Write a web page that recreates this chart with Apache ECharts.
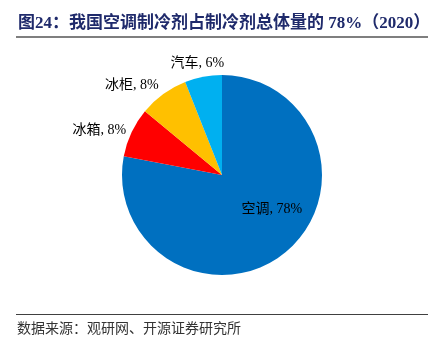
<!DOCTYPE html>
<html>
  <head>
    <meta charset="utf-8" />
    <title>ECharts</title>
    <script src="https://cdn.jsdelivr.net/npm/echarts@6/dist/echarts.min.js"></script>
    <style>
      html, body { margin: 0; padding: 0; background: #fff; }
    </style>
  </head>
  <body>
    <div id="main" style="width: 441px; height: 351px"></div>
  </body>

  <script>
    // 数据
    var names = ["空调", "冰箱", "冰柜", "汽车"];
    var values = [78, 8, 8, 6];
    var colors = ["#0070C0", "#FF0000", "#FFC000", "#00B0F0"];

    var myChart = echarts.init(document.getElementById("main"));

    var serifFont = "'Liberation Serif', 'Noto Sans CJK SC', serif";

    var pieData = names.map(function (n, i) {
      var item = {
        name: n,
        value: values[i],
        itemStyle: { color: colors[i] },
      };
      if (i === 0) {
        item.label = { position: "inside" };
      }
      return item;
    });

    // 标签微调（相对库计算的位置）
    var labelShift = [
      [16, -7],
      [5, 0],
      [4, -4],
      [27, -8],
    ];

    var option = {
      backgroundColor: "#fff",
      animation: false,
      graphic: [
        {
          type: "text",
          left: 18,
          top: 15,
          style: {
            text: "图24：我国空调制冷剂占制冷剂总体量的 78%（2020）",
            fill: "#1F2A6B",
            font: "bold 17px " + serifFont,
          },
        },
        {
          type: "rect",
          shape: { x: 16, y: 36, width: 412, height: 2 },
          style: { fill: "#7F7F7F" },
        },
        {
          type: "rect",
          shape: { x: 16, y: 314, width: 412, height: 1 },
          style: { fill: "#404040" },
        },
        {
          type: "text",
          left: 17,
          top: 322,
          style: {
            text: "数据来源：观研网、开源证券研究所",
            fill: "#333",
            font: "14px " + serifFont,
          },
        },
      ],
      series: [
        {
          type: "pie",
          center: [222, 175],
          radius: [0, 100],
          startAngle: 90,
          clockwise: true,
          label: {
            show: true,
            formatter: "{b}, {c}%",
            fontFamily: serifFont,
            fontSize: 14,
            color: "#000",
          },
          labelLine: { show: false, length: 6, length2: 0 },
          labelLayout: function (params) {
            var s = labelShift[params.dataIndex];
            return { dx: s[0], dy: s[1] };
          },
          data: pieData,
        },
      ],
    };

    myChart.setOption(option);
  </script>
</html>
